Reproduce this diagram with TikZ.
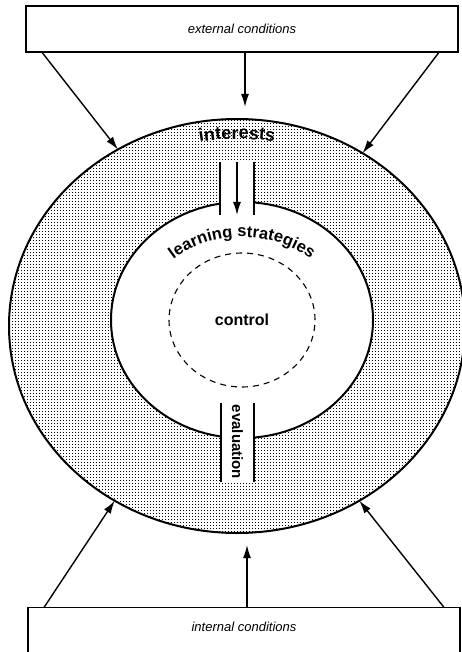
\documentclass[tikz,border=0pt]{standalone}
\usepackage{fontspec}
\setmainfont{Liberation Sans}
\usetikzlibrary{arrows.meta,shapes.geometric,patterns,decorations.text,calc}
\pgfdeclarepatternformonly{ringdots}{\pgfqpoint{-.5pt}{-.5pt}}{\pgfqpoint{2pt}{2pt}}{\pgfqpoint{3pt}{3pt}}{%
  \pgfpathrectangle{\pgfqpoint{0pt}{0pt}}{\pgfqpoint{1.35pt}{1.35pt}}\pgfusepath{fill}}
\newcommand{\ringgap}[4]{
\fill[white] (#1,#3) rectangle (#2,#4);
\draw[line width=2pt] (#1,#3) -- (#1,#4) (#2,#3) -- (#2,#4);
}
\begin{document}
\begin{tikzpicture}[x=1pt,y=1pt,
    box/.style={draw,line width=1.4pt,minimum width=432pt,inner sep=0pt,font=\itshape\fontsize{13}{13}\selectfont},
    feed/.style={line width=1.4pt,-{Latex[length=13pt,width=8pt]}},
    ring/.style={ellipse,draw,line width=2pt,inner sep=0pt,outer sep=0pt},
    lbl/.style={font=\bfseries\fontsize{16}{16}\selectfont}]
      \useasboundingbox (0,0) rectangle (461,-652);
      \node[ring,pattern=ringdots,minimum width=456pt,minimum height=414pt] (outer) at (237,-326) {};
      \node[ring,fill=white,minimum width=262pt,minimum height=236pt] (inner) at (242,-320) {};
      \node[ellipse,draw,line width=1.1pt,dash pattern=on 6pt off 5pt,minimum width=146pt,minimum height=134pt,inner sep=0pt,lbl] (ctrl) at (242,-320) {control};
      \ringgap{220}{254}{-162}{-215}
      \ringgap{221}{254}{-403}{-482}
      \node[box,minimum height=46pt] (extbox) at (242,-29) {external conditions};
      \node[box,anchor=north,text height=24pt,text depth=40pt] (intbox) at (244,-607) {internal conditions};
      \coordinate (extin) at (245,-107);
      \coordinate (intin) at (247,-545);
      \coordinate (gaptop) at (237,-162);
      \coordinate (gapbot) at (237,-215);
      \draw[feed] ([xshift=17pt]extbox.south west) -- (outer.124);
      \draw[feed] ([xshift=3pt]extbox.south) -- (extin);
      \draw[feed] ([xshift=-20pt]extbox.south east) -- (outer.54);
      \draw[feed] ([xshift=17pt]intbox.north west) -- (outer.235);
      \draw[feed] ([xshift=3pt]intbox.north) -- (intin);
      \draw[feed] ([xshift=-17pt]intbox.north east) -- (outer.305);
      \draw[feed] (gaptop) -- (gapbot);
      \path[decorate,decoration={text along path,text align=center,text={|\bfseries\fontsize{18}{18}\selectfont|interests}}]
        ($(outer.center)+(130:209pt and 187pt)$) arc[start angle=130,end angle=50,x radius=209pt,y radius=187pt];
      \path[decorate,decoration={text along path,text align=center,text={|\bfseries\fontsize{16.5}{16.5}\selectfont|learning strategies}}]
        ($(inner.center)+(170:101pt and 83pt)$) arc[start angle=170,end angle=10,x radius=101pt,y radius=83pt];
      \node[rotate=-90,font=\bfseries\fontsize{15}{15}\selectfont] (evaltext) at (237.5,-442) {evaluation};
\end{tikzpicture}
\end{document}
